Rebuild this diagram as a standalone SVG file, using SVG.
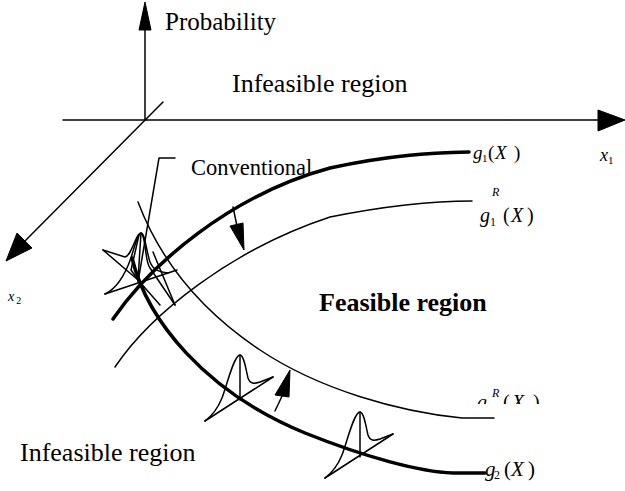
<svg xmlns="http://www.w3.org/2000/svg" xmlns:xlink="http://www.w3.org/1999/xlink" width="625" height="491" viewBox="0 0 625 491">
<style>
.lbl{font-family:"Liberation Serif","Times New Roman",serif;fill:#000}
.math{font-family:"Liberation Serif","Times New Roman",serif;font-style:italic;fill:#000}
.sub{font-style:normal}
.thin{fill:none;stroke:#000;stroke-width:1.5;stroke-linejoin:round;stroke-linecap:round}
.thick{fill:none;stroke:#000;stroke-width:3.5;stroke-linejoin:round;stroke-linecap:round}
.head{fill:#000;stroke:#000;stroke-width:1;stroke-linejoin:miter}
</style>
<defs>
<g id="bell">
<path class="thin" d="M-35,21 C-27,15 -22,8 -18,-2 C-13,-15 -6,-45 0,-45 C4,-45 6,-30 8,-22 C10,-16 14,-16 20,-18 L33,-23"/>
<path class="thin" d="M-35,21 L33,-23"/>
<path class="thin" d="M0,0 L0,-45"/>
</g>
<clipPath id="clipg2r"><rect x="460" y="370" width="100" height="34"/></clipPath>
</defs>
<rect width="625" height="491" fill="#fff"/>
<g id="axes">
<path class="thin" d="M145,120 L145,28"/>
<polygon class="head" points="145,2 139,30 151,30"/>
<path class="thin" d="M63,120 L600,120"/>
<polygon class="head" points="625,120 598,110 598,131"/>
<path class="thin" d="M163,102 L22,244"/>
<polygon class="head" points="6,261 17,233 32,248"/>
</g>
<g id="connectors">
<path id="g1" class="thick" d="M113,319 C150,265 230,195 330,168 C390,155 430,153 469,152"/>
<path id="g1R" class="thin" d="M115,367 C150,315 230,250 330,217 C390,205 440,201 472,201"/>
<path id="g2" class="thick" d="M132,258 C147,320 205,392 305,433 C365,457 420,472 453,473 L485,473"/>
<path id="g2R" class="thin" d="M138,202 C160,260 200,310 260,350 C320,390 400,412 462,418 L494,418"/>
<path class="thin" d="M233,207 L237,226"/>
<polygon class="head" points="230,226 243,223 244,250"/>
<path class="thin" d="M275,411 L283,394"/>
<polygon class="head" points="275,395 289,397 290,370"/>
</g>
<g id="distributions">
<use xlink:href="#bell" transform="translate(240,400)"/>
<use xlink:href="#bell" transform="translate(360,457)"/>
<g id="cluster">
<path class="thin" d="M105,294 L177,270"/>
<path class="thin" d="M105,294 C118,288 126,272 131,258 C135,245 138,233 141,233 C145,233 146,250 150,262 C154,272 162,272 168,273"/>
<path class="thin" d="M103,250 L125,257 C130,256 133,245 137,237 C139,233 141,233 142,234 C146,240 145,262 150,268 L175,305"/>
<path class="thin" d="M103,250 L138,280"/>
<path class="thin" d="M141,233 L138,280"/>
<path class="thin" d="M139,235 L131,270 L138,280"/>
<path class="thin" d="M153,252 L175,305"/>
<path class="thin" d="M138,280 L160,305"/>
</g>
</g>
<g id="leader">
<path class="thin" d="M175,158 L159,158 L138,282"/>
</g>
<g id="labels">
<text class="lbl" x="165" y="30" font-size="25">Probability</text>
<text class="lbl" x="232" y="92" font-size="26">Infeasible region</text>
<text class="lbl" x="191" y="175" font-size="22.5">Conventional</text>
<text class="lbl" x="319" y="311" font-size="26" font-weight="bold">Feasible region</text>
<text class="lbl" x="20" y="461" font-size="26">Infeasible region</text>
<text class="math" x="600" y="161" font-size="18">x<tspan class="sub" font-size="11" dy="3">1</tspan></text>
<text class="math" x="8" y="301" font-size="14">x<tspan class="sub" font-size="10" dy="3" dx="2">2</tspan></text>
<text class="math" font-size="19"><tspan x="473" y="159">g</tspan><tspan class="sub" x="482" y="162" font-size="11">1</tspan><tspan x="488" y="159" class="sub">(</tspan><tspan x="495" y="159">X</tspan><tspan x="514" y="159" class="sub">)</tspan></text>
<text class="math" font-size="20"><tspan x="480" y="222">g</tspan><tspan class="sub" x="490" y="226" font-size="12">1</tspan><tspan x="492" y="196" font-size="12">R</tspan><tspan x="503" y="222" class="sub">(</tspan><tspan x="511" y="222">X</tspan><tspan x="527" y="222" class="sub">)</tspan></text>
<text class="math" font-size="20" clip-path="url(#clipg2r)"><tspan x="477" y="409">g</tspan><tspan class="sub" x="487" y="413" font-size="12">2</tspan><tspan x="492" y="397" font-size="12">R</tspan><tspan x="503" y="409" class="sub">(</tspan><tspan x="512" y="409">X</tspan><tspan x="533" y="409" class="sub">)</tspan></text>
<text class="math" font-size="21"><tspan x="485" y="476">g</tspan><tspan class="sub" x="494" y="479" font-size="12">2</tspan><tspan x="504" y="476" class="sub">(</tspan><tspan x="511" y="476">X</tspan><tspan x="528" y="476" class="sub">)</tspan></text>
</g>
</svg>
